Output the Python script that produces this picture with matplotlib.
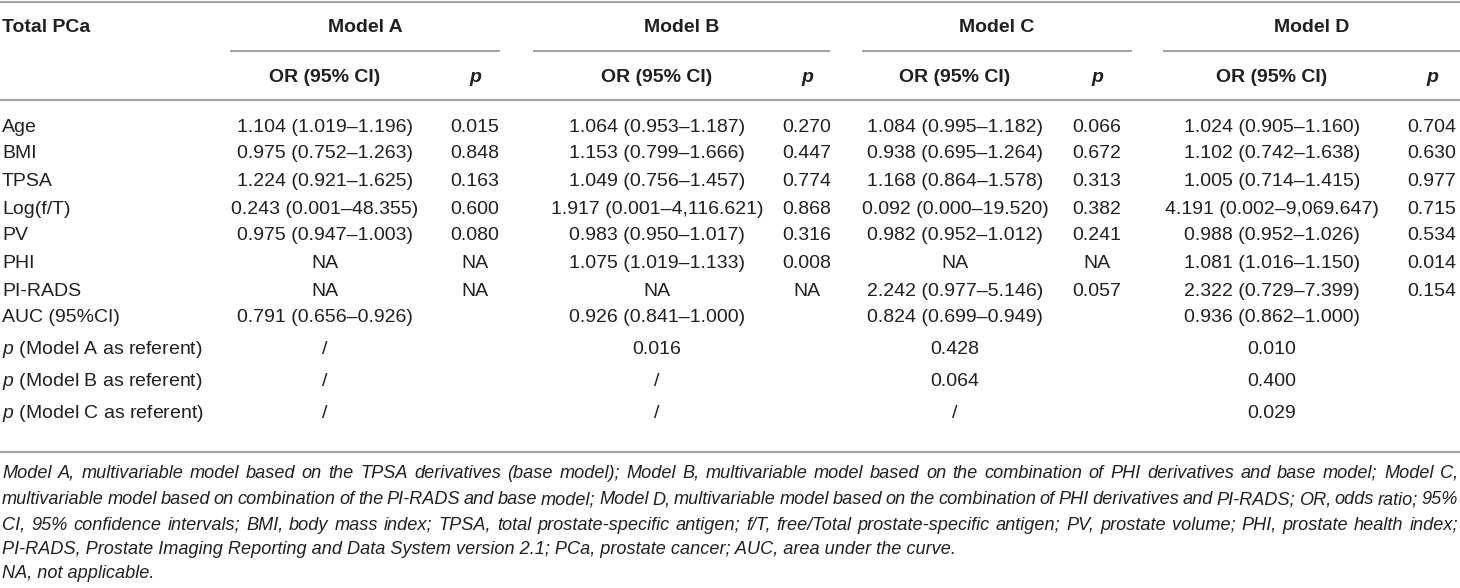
import matplotlib.pyplot as plt

plt.rcParams['font.family'] = ['Liberation Sans', 'DejaVu Sans']
plt.rcParams['mathtext.fontset'] = 'custom'
plt.rcParams['mathtext.it'] = 'Liberation Sans:italic'
plt.rcParams['mathtext.rm'] = 'Liberation Sans'

models = ["Model A", "Model B", "Model C", "Model D"]
variables = ["Age", "BMI", "TPSA", "Log(f/T)", "PV", "PHI", "PI-RADS"]

or_a = ["1.104 (1.019\u20131.196)", "0.975 (0.752\u20131.263)", "1.224 (0.921\u20131.625)",
        "0.243 (0.001\u201348.355)", "0.975 (0.947\u20131.003)", "NA", "NA"]
p_a = ["0.015", "0.848", "0.163", "0.600", "0.080", "NA", "NA"]
or_b = ["1.064 (0.953\u20131.187)", "1.153 (0.799\u20131.666)", "1.049 (0.756\u20131.457)",
        "1.917 (0.001\u20134,116.621)", "0.983 (0.950\u20131.017)", "1.075 (1.019\u20131.133)", "NA"]
p_b = ["0.270", "0.447", "0.774", "0.868", "0.316", "0.008", "NA"]
or_c = ["1.084 (0.995\u20131.182)", "0.938 (0.695\u20131.264)", "1.168 (0.864\u20131.578)",
        "0.092 (0.000\u201319.520)", "0.982 (0.952\u20131.012)", "NA", "2.242 (0.977\u20135.146)"]
p_c = ["0.066", "0.672", "0.313", "0.382", "0.241", "NA", "0.057"]
or_d = ["1.024 (0.905\u20131.160)", "1.102 (0.742\u20131.638)", "1.005 (0.714\u20131.415)",
        "4.191 (0.002\u20139,069.647)", "0.988 (0.952\u20131.026)", "1.081 (1.016\u20131.150)",
        "2.322 (0.729\u20137.399)"]
p_d = ["0.704", "0.630", "0.977", "0.715", "0.534", "0.014", "0.154"]

auc = ["0.791 (0.656\u20130.926)", "0.926 (0.841\u20131.000)", "0.824 (0.699\u20130.949)",
       "0.936 (0.862\u20131.000)"]
ref_labels = ["$p$ (Model A as referent)", "$p$ (Model B as referent)", "$p$ (Model C as referent)"]
ref_p = [["/", "0.016", "0.428", "0.010"],
         ["/", "/", "0.064", "0.400"],
         ["/", "/", "/", "0.029"]]

notes = [
    "Model A, multivariable model based on the TPSA derivatives (base model); Model B, multivariable model "
    "based on the combination of PHI derivatives and base model; Model C,",
    "multivariable model based on combination of the PI-RADS and base model; Model D, multivariable model "
    "based on the combination of PHI derivatives and PI-RADS; OR, odds ratio; 95%",
    "CI, 95% confidence intervals; BMI, body mass index; TPSA, total prostate-specific antigen; f/T, "
    "free/Total prostate-specific antigen; PV, prostate volume; PHI, prostate health index;",
    "PI-RADS, Prostate Imaging Reporting and Data System version 2.1; PCa, prostate cancer; AUC, area under the curve.",
    "NA, not applicable.",
]

W, H = 1460, 588
txt = '#231f20'
rule = '#a3a3a3'
fs = 14
or_x = [325, 657, 955, 1272]
p_x = [475, 807, 1097, 1432]
spans = [(230, 500), (533, 830), (862, 1132), (1163, 1460)]
row_y = [127, 154, 181, 209, 236, 263, 291]
auc_y = 318
ref_y = [349, 381, 413]
note_y = [473, 500, 525, 550, 574]

fig = plt.figure(figsize=(W / 100, H / 100), dpi=100)
ax = fig.add_axes([0, 0, 1, 1])
ax.set_xlim(0, W)
ax.set_ylim(H, 0)
ax.axis('off')

# rules
for y in [1.5, 100, 452]:
    ax.plot([0, W], [y, y], color=rule, lw=1.5, solid_capstyle='butt')
for x0, x1 in spans:
    ax.plot([x0, x1], [51, 51], color=rule, lw=1.5, solid_capstyle='butt')

# header
ax.text(2, 27, "Total PCa", fontsize=fs, fontweight='bold', color=txt, va='center')
for i, m in enumerate(models):
    ax.text((spans[i][0] + spans[i][1]) / 2, 27, m, fontsize=fs, fontweight='bold',
            color=txt, ha='center', va='center')
    ax.text(or_x[i], 78, "OR (95% CI)", fontsize=fs, fontweight='bold', color=txt,
            ha='center', va='center')
    ax.text(p_x[i], 78, "p", fontsize=fs, fontweight='bold', style='italic', color=txt,
            ha='center', va='center')

# body
ors = [or_a, or_b, or_c, or_d]
ps = [p_a, p_b, p_c, p_d]
for r, name in enumerate(variables):
    ax.text(2, row_y[r], name, fontsize=fs, color=txt, va='center')
    for i in range(4):
        ax.text(or_x[i], row_y[r], ors[i][r], fontsize=fs, color=txt, ha='center', va='center')
        ax.text(p_x[i], row_y[r], ps[i][r], fontsize=fs, color=txt, ha='center', va='center')

ax.text(2, auc_y, "AUC (95%CI)", fontsize=fs, color=txt, va='center')
for i in range(4):
    ax.text(or_x[i], auc_y, auc[i], fontsize=fs, color=txt, ha='center', va='center')

for r, lab in enumerate(ref_labels):
    ax.text(2, ref_y[r], lab, fontsize=fs, color=txt, va='center')
    for i in range(4):
        ax.text(or_x[i], ref_y[r], ref_p[r][i], fontsize=fs, color=txt, ha='center', va='center')

# footnote, justified like the journal layout
nfs = 13.1
fig.canvas.draw()
rend = fig.canvas.get_renderer()
for k, line in enumerate(notes):
    if k >= 3:
        ax.text(2, note_y[k], line, fontsize=nfs, style='italic', color=txt, va='center')
        continue
    words = line.split(' ')
    objs = [ax.text(0, note_y[k], w, fontsize=nfs, style='italic', color=txt, va='center')
            for w in words]
    widths = [o.get_window_extent(renderer=rend).width for o in objs]
    gap = (W - 4 - sum(widths)) / (len(words) - 1)
    x = 2
    for o, w in zip(objs, widths):
        o.set_x(x)
        x += w + gap

fig.savefig("out.png", dpi=100, facecolor='white')
